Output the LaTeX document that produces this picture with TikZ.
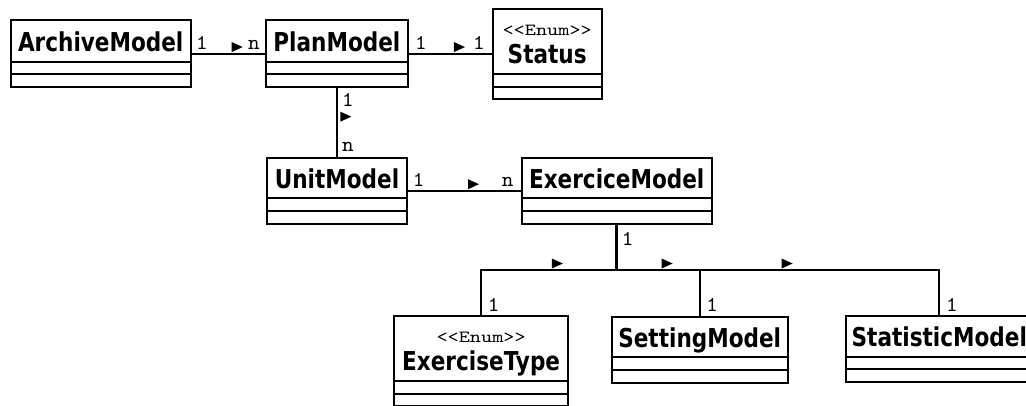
\documentclass[tikz,border=0pt]{standalone}
\usepackage{fontspec}
\usetikzlibrary{calc}
\newfontfamily\clsfont[FakeStretch=0.83]{DejaVu Sans}
\newfontfamily\multfont[FakeStretch=1.05]{lmmono10-regular.otf}
\newfontfamily\stereofont[FakeStretch=1.25]{lmmono10-regular.otf}

\tikzset{
  clsbox/.style={draw, line width=2pt, inner sep=0pt, outer sep=0pt},
  clsline/.style={line width=2pt},
  clsname/.style={anchor=base, inner sep=0pt, font=\clsfont\bfseries\fontsize{26}{30}\selectfont},
  stereo/.style={anchor=base, inner sep=0pt, font=\stereofont\fontsize{17}{20}\selectfont},
  mult/.style={anchor=base, inner sep=0pt, font=\multfont\fontsize{21}{24}\selectfont},
  assoc/.style={line width=2pt},
  mainassoc/.style={line width=2.6pt},
  % reading-direction marks of the associations
  dirright/.pic={\fill (0,-1.5) -- (0,-11.5) -- (11,-6.5) -- cycle;},
  dirdown/.pic={\fill (3.5,0) -- (3.5,10) -- (14.5,5) -- cycle;},
}

% class box: name, left, top, width, name compartment height, class name
\newcommand\umlclass[6]{%
  \node[clsbox, anchor=north west, minimum width=#4pt, minimum height={(#5+25.4)*1pt}] (#1) at (#2,#3) {};
  \draw[clsline] ([yshift=-#5pt]#1.north west) -- ([yshift=-#5pt]#1.north east);
  \draw[clsline] ([yshift=-#5pt-12.7pt]#1.north west) -- ([yshift=-#5pt-12.7pt]#1.north east);
  \node[clsname] (#1-name) at ([yshift=-#5pt+10.3pt]#1.north) {#6};
}
% enumeration box with its stereotype
\newcommand\umlenum[6]{%
  \node[clsbox, anchor=north west, minimum width=#4pt, minimum height={(#5+25.4)*1pt}] (#1) at (#2,#3) {};
  \draw[clsline] ([yshift=-#5pt]#1.north west) -- ([yshift=-#5pt]#1.north east);
  \draw[clsline] ([yshift=-#5pt-12.7pt]#1.north west) -- ([yshift=-#5pt-12.7pt]#1.north east);
  \node[stereo] (#1-stereo) at ([yshift=-26.5pt]#1.north) {<\kern0pt<Enum>\kern0pt>};
  \node[clsname] (#1-name) at ([yshift=-54pt]#1.north) {#6};
}

\begin{document}
\begin{tikzpicture}[x=1pt, y=-1pt]
\useasboundingbox (0,0) rectangle (1026,405);

% classes
\umlclass{archive}{10.7}{20}{180}{41.7}{ArchiveModel}
\umlclass{plan}{265.7}{20}{142.3}{41.7}{PlanModel}
\umlenum{status}{492.7}{9}{109}{65}{Status}
\umlclass{unit}{267.3}{157.7}{139.4}{40.6}{UnitModel}
\umlclass{exercice}{521.7}{157.7}{190}{40.6}{ExerciceModel}
\umlenum{etype}{394}{316}{174.3}{65}{ExerciseType}
\umlclass{setting}{611.7}{316.7}{176}{40.6}{SettingModel}
\umlclass{statistic}{846}{316}{186.6}{40.6}{StatisticModel}

% ArchiveModel -> PlanModel
\draw[assoc] (archive.east) -- (plan.west);
\pic at ($(archive.east)!0.547!(plan.west)$) {dirright};
\node[mult] (m-archive) at ([xshift=11.3pt, yshift=4.3pt]archive.east) {1};
\node[mult] (m-plan-a) at ([xshift=-11.7pt, yshift=4.3pt]plan.west) {n};

% PlanModel -> Status
\draw[assoc] (plan.east) -- (plan.east -| status.west);
\pic at ($(plan.east)!0.543!(plan.east -| status.west)$) {dirright};
\node[mult] (m-plan-s) at ([xshift=13pt, yshift=4.3pt]plan.east) {1};
\node[mult] (m-status) at ([xshift=-13.7pt, yshift=4.3pt]plan.east -| status.west) {1};

% PlanModel -> UnitModel
\draw[assoc] (plan.south) -- (plan.south |- unit.north);
\pic at ($(plan.south)!0.348!(plan.south |- unit.north)$) {dirdown};
\node[mult] (m-plan-u) at ([xshift=11pt, yshift=-19.8pt]plan.south) {1};
\node[mult] (m-unit) at ([xshift=11pt, yshift=6pt]plan.south |- unit.north) {n};

% UnitModel -> ExerciceModel
\draw[assoc] (unit.east) -- (exercice.west);
\pic at ($(unit.east)!0.533!(exercice.west)$) {dirright};
\node[mult] (m-unit-e) at ([xshift=12pt, yshift=4.7pt]unit.east) {1};
\node[mult] (m-exercice) at ([xshift=-14pt, yshift=4.7pt]exercice.west) {n};

% ExerciceModel -> ExerciseType, SettingModel, StatisticModel
\coordinate (busmid) at ([yshift=-46.3pt]exercice.south);
\draw[mainassoc] (exercice.south) -- (busmid);
\node[mult] (m-exercice-b) at ([xshift=11pt, yshift=-21.3pt]exercice.south) {\bfseries 1};
\draw[assoc] (busmid) -| (etype.north);
\draw[assoc] (busmid) -| (setting.north);
\draw[assoc] (busmid) -| (statistic.north);
\pic at ([xshift=-64.8pt]busmid) {dirright};
\pic at ([xshift=44.9pt]busmid) {dirright};
\pic at ([xshift=164.9pt]busmid) {dirright};
\node[mult] (m-etype) at ([xshift=12.5pt, yshift=5pt]etype.north) {1};
\node[mult] (m-setting) at ([xshift=12.5pt, yshift=5pt]setting.north) {1};
\node[mult] (m-statistic) at ([xshift=12.5pt, yshift=5pt]statistic.north) {1};
\end{tikzpicture}
\end{document}
